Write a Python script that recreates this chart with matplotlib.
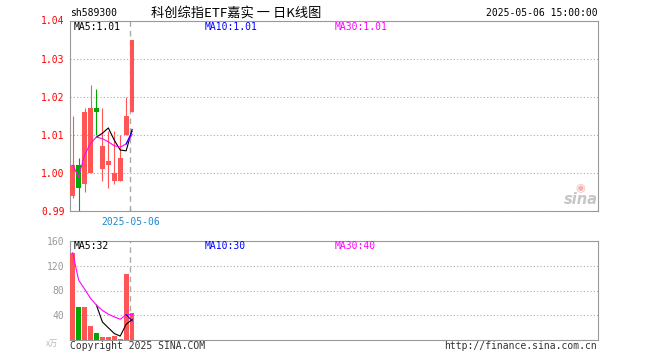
import matplotlib
matplotlib.use('Agg')
import matplotlib.pyplot as plt
import numpy as np
import pandas as pd

# ---- data ----
dates = ['2025-04-17', '2025-04-18', '2025-04-21', '2025-04-22', '2025-04-23', '2025-04-24',
         '2025-04-25', '2025-04-28', '2025-04-29', '2025-04-30', '2025-05-06']
opens = [0.994, 1.002, 0.997, 1.000, 1.017, 1.001, 1.002, 0.998, 0.998, 1.010, 1.016]
closes = [1.002, 0.996, 1.016, 1.017, 1.016, 1.007, 1.003, 1.000, 1.004, 1.015, 1.035]
highs = [1.015, 1.004, 1.017, 1.023, 1.022, 1.017, 1.011, 1.011, 1.010, 1.020, 1.035]
lows = [0.9935, 0.990, 0.995, 1.000, 1.010, 0.998, 0.996, 0.997, 0.998, 1.010, 1.016]
volumes = [141, 53, 53, 23, 11.5, 5.5, 5.5, 7, 2, 107, 43.5]

price_ticks = [0.99, 1.00, 1.01, 1.02, 1.03, 1.04]
vol_ticks = [40, 80, 120, 160]
ma_price_labels = ['MA5:1.01', 'MA10:1.01', 'MA30:1.01']
ma_vol_labels = ['MA5:32', 'MA10:30', 'MA30:40']
code_label = 'sh589300'
title_label = '科创综指ETF嘉实 一 日K线图'
time_label = '2025-05-06 15:00:00'
date_tick_label = '2025-05-06'
unit_label = 'x万'

RED = '#ff5555'
GREEN = '#00a800'
FRAME = '#999999'
GRID = '#aaaaaa'
MONO = 'DejaVu Sans Mono'
CJK = ['Noto Sans CJK SC', 'DejaVu Sans']

W, H = 660, 360
fig = plt.figure(figsize=(6.6, 3.6), dpi=100)
fig.patch.set_facecolor('white')

def fx(px):
    return px / W

def fy(py):
    return 1 - py / H

ax = fig.add_axes([fx(70), fy(211), fx(528), 190.5 / H])
axv = fig.add_axes([fx(70), fy(340), fx(528), 99 / H])

n = len(closes)
idx = np.arange(n)
s_close = pd.Series(closes)
s_vol = pd.Series(volumes)
ma5 = s_close.rolling(5).mean()
ma10 = s_close.rolling(10).mean()
ma30 = s_close.expanding(1).mean()
vma5 = s_vol.rolling(5).mean()
vma10 = s_vol.rolling(10).mean()
vma30 = s_vol.expanding(1).mean()

XMIN, XMAX = -0.45, 88.4
mark_x = n - 1 - 0.3
LW = 0.8

# ---- price panel ----
for i in idx:
    up = closes[i] >= opens[i]
    c = RED if up else GREEN
    ax.vlines(i, lows[i], highs[i], color=c, lw=LW, zorder=2)
    body = max(abs(closes[i] - opens[i]), 0.0004)
    ax.bar(i, body, bottom=min(opens[i], closes[i]), width=0.8, color=c, lw=0, zorder=3)

ax.plot(idx, ma5, color='black', lw=LW, zorder=4)
ax.plot(idx, ma30, color='#ff00ff', lw=LW, zorder=4)
ax.plot(idx, ma10, color='#0000ff', lw=LW, zorder=5)

ax.set_xlim(XMIN, XMAX)
ax.set_ylim(price_ticks[0], price_ticks[-1])
ax.set_yticks(price_ticks)
ax.set_yticklabels(['%.2f' % t for t in price_ticks], color='red', fontsize=7, family=MONO)
ax.tick_params(axis='y', length=0, pad=4)
ax.set_xticks([mark_x])
ax.set_xticklabels([date_tick_label], color='#1a8ad4', fontsize=7, family=MONO)
ax.tick_params(axis='x', direction='in', length=2, color=FRAME, pad=4)
ax.grid(axis='y', color=GRID, ls=(0, (1, 2)), lw=0.8)
ax.axvline(mark_x, color=GRID, ls=(0, (4, 3)), lw=1, zorder=1)
for s in ax.spines.values():
    s.set_color(FRAME)

# ---- volume panel ----
vcolors = [RED if closes[i] >= opens[i] else GREEN for i in idx]
axv.bar(idx, volumes, width=0.8, color=vcolors, lw=0, zorder=3)
axv.plot(idx, vma5, color='black', lw=LW, zorder=4)
axv.plot(idx, vma30, color='#ff00ff', lw=LW, zorder=4)
axv.plot(idx, vma10, color='#0000ff', lw=LW, zorder=5)
axv.set_xlim(XMIN, XMAX)
axv.set_ylim(0, vol_ticks[-1])
axv.set_yticks(vol_ticks)
axv.set_yticklabels([str(t) for t in vol_ticks], color='#999999', fontsize=7, family=MONO)
axv.tick_params(axis='y', length=0, pad=4)
axv.set_xticks([])
axv.grid(axis='y', color=GRID, ls=(0, (1, 2)), lw=0.8)
axv.axvline(mark_x, color=GRID, ls=(0, (4, 3)), lw=1, zorder=1)
for s in axv.spines.values():
    s.set_color(FRAME)

# ---- texts ----
fig.text(fx(70), fy(13), code_label, fontsize=7, family=MONO, va='center', ha='left')
fig.text(fx(151), fy(13), title_label, fontsize=9.5, family=CJK, va='center', ha='left')
fig.text(fx(598), fy(13), time_label, fontsize=7, family=MONO, va='center', ha='right')

lab_x = [74, 205, 335]
lab_c = ['black', '#0000ff', '#ff00ff']
for t, x, c in zip(ma_price_labels, lab_x, lab_c):
    fig.text(fx(x), fy(27), t, fontsize=7, family=MONO, color=c, va='center', ha='left')
for t, x, c in zip(ma_vol_labels, lab_x, lab_c):
    fig.text(fx(x), fy(246), t, fontsize=7, family=MONO, color=c, va='center', ha='left')

fig.text(fx(58), fy(343), unit_label, fontsize=6, family=CJK, color='#bbbbbb', va='center', ha='right')
fig.text(fx(70), fy(346), 'Copyright 2025 SINA.COM', fontsize=7, family=MONO, color='#333333',
         va='center', ha='left')
fig.text(fx(597), fy(346), 'http://finance.sina.com.cn', fontsize=7, family=MONO, color='#333333',
         va='center', ha='right')

# sina watermark
fig.text(fx(581), fy(199), 'sina', fontsize=10.5, family='DejaVu Sans', style='italic', weight='bold',
         color='#b8b8b8', va='center', ha='center', alpha=0.8)
fig.text(fx(580), fy(188), '◉', fontsize=8, family='DejaVu Sans', color='#f4a0a0',
         va='center', ha='center', alpha=0.8)

fig.savefig('out.png', dpi=100)
